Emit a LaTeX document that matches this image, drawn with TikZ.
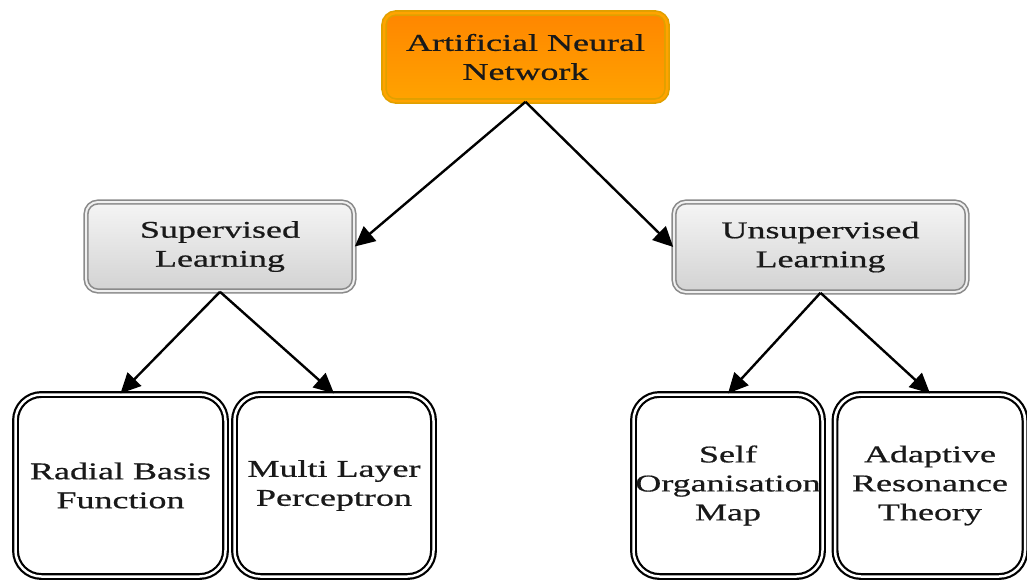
\documentclass[tikz,border=0pt]{standalone}
\usepackage{fontspec}
\newfontfamily\lbl[FakeStretch=1.5,FakeBold=0.6]{Liberation Serif}
\usetikzlibrary{arrows.meta}
\definecolor{ornA}{HTML}{FF8600}
\definecolor{ornB}{HTML}{FFA300}
\definecolor{ornEdge}{HTML}{E0A000}
\definecolor{gryEdge}{HTML}{8A8A8A}
\tikzset{
  lab/.style={font=\lbl\fontsize{24}{29}\selectfont, align=center, text=black!90},
  topbox/.style={lab, rounded corners=12pt, draw=ornEdge, double=ornB, double distance=2.5pt, line width=1.6pt, top color=ornA, bottom color=ornB, inner sep=0pt},
  midbox/.style={lab, rounded corners=12pt, draw=gryEdge, double=gray!12, double distance=2pt, line width=1.6pt, top color=gray!8, bottom color=gray!35, inner sep=0pt},
  leafbox/.style={lab, rounded corners=26pt, draw=black, double=white, double distance=2.5pt, line width=2.2pt, fill=white, inner sep=0pt},
  arr/.style={line width=2.4pt, -{Triangle[length=20pt,width=19pt]}}
}
\begin{document}
\begin{tikzpicture}[x=1pt,y=-1pt]
\useasboundingbox (0,0) rectangle (1027,581);
\node[topbox, minimum width=283pt, minimum height=88pt] (ann) at (525.5,57) {Artificial Neural\\Network};
\node[midbox, minimum width=268pt, minimum height=89pt] (sup) at (220,246.5) {Supervised\\Learning};
\node[midbox, minimum width=293pt, minimum height=90pt] (uns) at (820.5,247) {Unsupervised\\Learning};
\node[leafbox, minimum width=210pt, minimum height=182pt] (rbf) at (120.5,485.5) {Radial Basis\\Function};
\node[leafbox, minimum width=199pt, minimum height=182pt] (mlp) at (334,485.5) {Multi Layer\\Perceptron};
\node[leafbox, minimum width=189pt, minimum height=182pt] (som) at (728,485.5) {Self\\Organisation\\Map};
\node[leafbox, minimum width=190pt, minimum height=182pt] (art) at (930,485.5) {Adaptive\\Resonance\\Theory};
\draw[arr] (ann.south) -- (sup.east);
\draw[arr] (ann.south) -- (uns.west);
\draw[arr] (sup.south) -- (rbf.north);
\draw[arr] (sup.south) -- (mlp.north);
\draw[arr] (uns.south) -- (som.north);
\draw[arr] (uns.south) -- (art.north);
\end{tikzpicture}
\end{document}
